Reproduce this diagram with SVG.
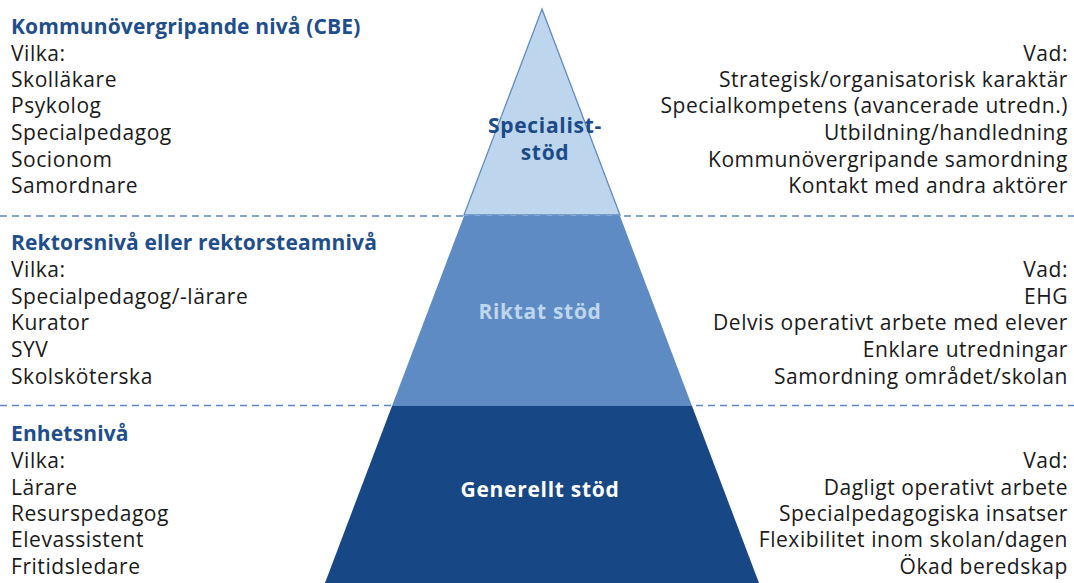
<svg xmlns="http://www.w3.org/2000/svg" width="1074" height="583" viewBox="0 0 1074 583">
<style>
.t{font-family:"Open Sans","Noto Sans","Liberation Sans",sans-serif;font-size:21px;letter-spacing:0.55px;fill:#1a1a1a}
.r{text-anchor:end}
.h{font-weight:bold;fill:#1f4e8c;letter-spacing:0.15px}
.p{font-family:"Open Sans","Noto Sans","Liberation Sans",sans-serif;font-weight:bold;font-size:21px;letter-spacing:0.7px;text-anchor:middle}
.dash{stroke:#5b87c5;stroke-width:1.3;stroke-dasharray:7 5;fill:none}
</style>
<rect width="1074" height="583" fill="#ffffff"/>
<g id="connectors">
<line class="dash" x1="0" y1="216" x2="1074" y2="216"/>
<line class="dash" x1="0" y1="405.5" x2="1074" y2="405.5"/>
</g>
<g id="specialist">
<polygon points="542,9 620,215 464,215" fill="#bed6ed" stroke="#5f8ac4" stroke-width="1.3"/>
<text class="p" x="545" y="133" fill="#1b4a88">Specialist-</text>
<text class="p" x="545" y="160" fill="#1b4a88">stöd</text>
</g>
<g id="riktat">
<polygon points="464,216 620,216 692,406 392,406" fill="#5f8bc4"/>
<text class="p" x="540" y="319" fill="#bed6ed">Riktat stöd</text>
</g>
<g id="generellt">
<polygon points="392,406 692,406 759,583 325,583" fill="#174785"/>
<text class="p" x="540" y="497" fill="#ffffff">Generellt stöd</text>
</g>
<g id="left-top">
<text class="t h" x="11" y="34">Kommunövergripande nivå (CBE)</text>
<text class="t" x="11" y="61">Vilka:</text>
<text class="t" x="11" y="87">Skolläkare</text>
<text class="t" x="11" y="113">Psykolog</text>
<text class="t" x="11" y="140">Specialpedagog</text>
<text class="t" x="11" y="167">Socionom</text>
<text class="t" x="11" y="193">Samordnare</text>
</g>
<g id="right-top">
<text class="t r" x="1068" y="61">Vad:</text>
<text class="t r" x="1068" y="87">Strategisk/organisatorisk karaktär</text>
<text class="t r" x="1068" y="113">Specialkompetens (avancerade utredn.)</text>
<text class="t r" x="1068" y="140">Utbildning/handledning</text>
<text class="t r" x="1068" y="167">Kommunövergripande samordning</text>
<text class="t r" x="1068" y="193">Kontakt med andra aktörer</text>
</g>
<g id="left-mid">
<text class="t h" x="11" y="250">Rektorsnivå eller rektorsteamnivå</text>
<text class="t" x="11" y="277">Vilka:</text>
<text class="t" x="11" y="304">Specialpedagog/-lärare</text>
<text class="t" x="11" y="330">Kurator</text>
<text class="t" x="11" y="357">SYV</text>
<text class="t" x="11" y="384">Skolsköterska</text>
</g>
<g id="right-mid">
<text class="t r" x="1068" y="277">Vad:</text>
<text class="t r" x="1068" y="304">EHG</text>
<text class="t r" x="1068" y="330">Delvis operativt arbete med elever</text>
<text class="t r" x="1068" y="357">Enklare utredningar</text>
<text class="t r" x="1068" y="384">Samordning området/skolan</text>
</g>
<g id="left-bot">
<text class="t h" x="11" y="441">Enhetsnivå</text>
<text class="t" x="11" y="468">Vilka:</text>
<text class="t" x="11" y="495">Lärare</text>
<text class="t" x="11" y="521">Resurspedagog</text>
<text class="t" x="11" y="547">Elevassistent</text>
<text class="t" x="11" y="574">Fritidsledare</text>
</g>
<g id="right-bot">
<text class="t r" x="1068" y="468">Vad:</text>
<text class="t r" x="1068" y="495">Dagligt operativt arbete</text>
<text class="t r" x="1068" y="521">Specialpedagogiska insatser</text>
<text class="t r" x="1068" y="547">Flexibilitet inom skolan/dagen</text>
<text class="t r" x="1068" y="574">Ökad beredskap</text>
</g>
</svg>
